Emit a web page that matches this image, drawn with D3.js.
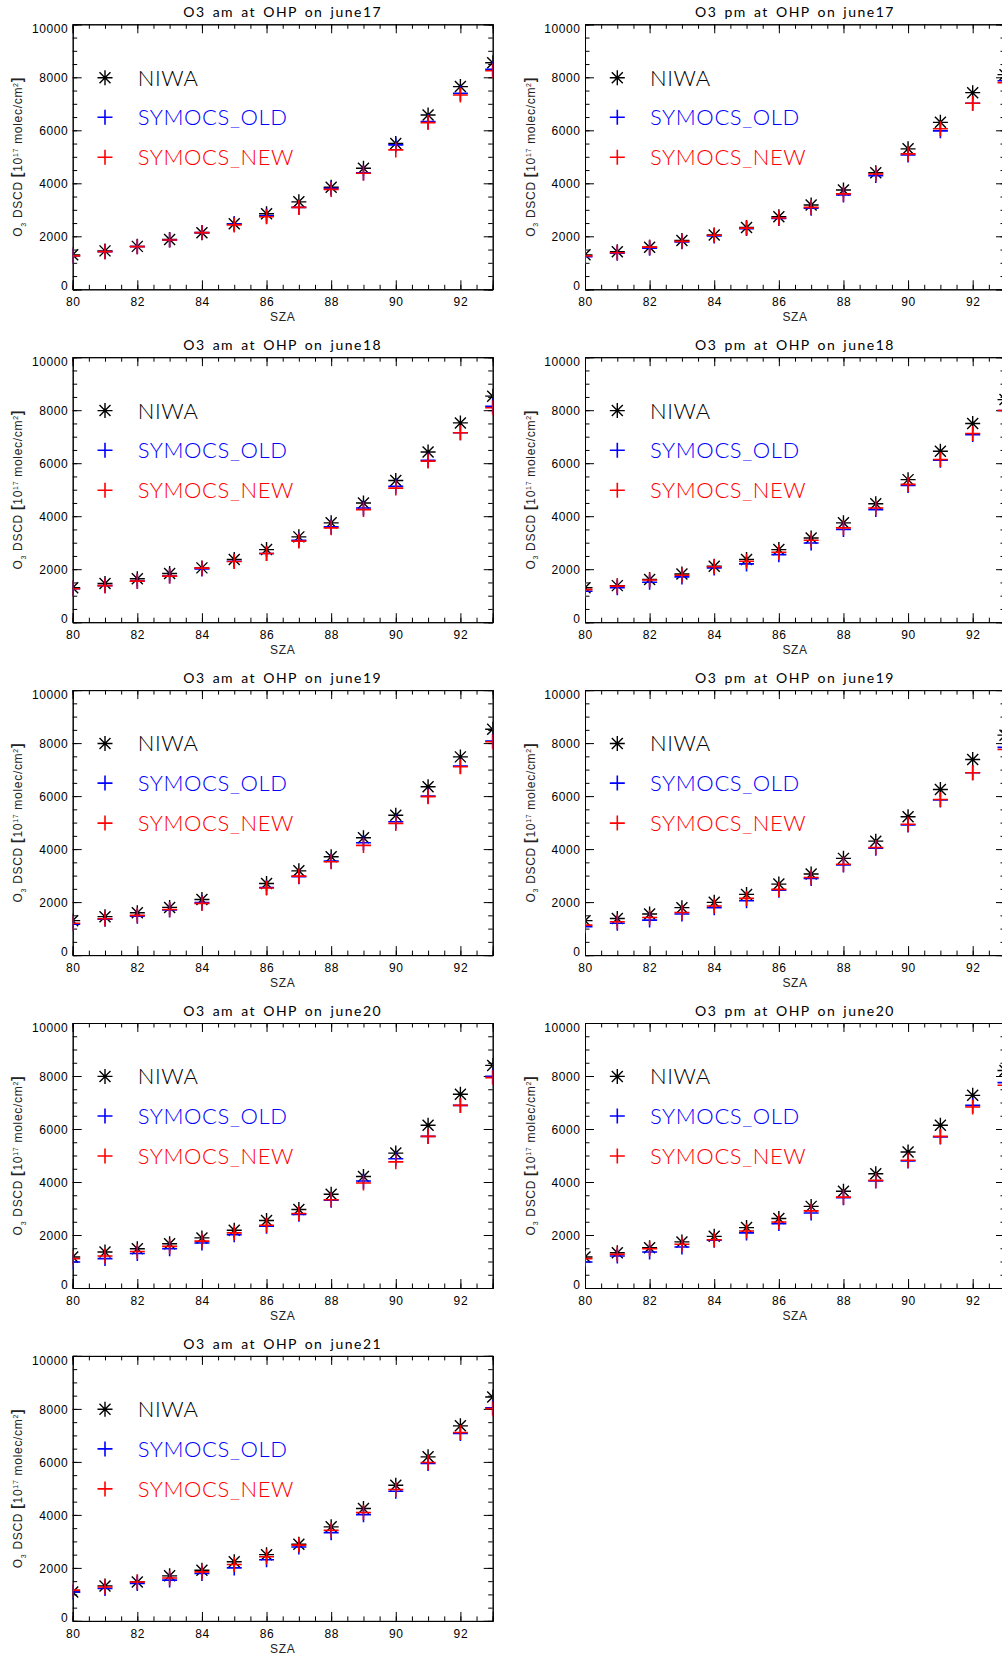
<!DOCTYPE html>
<html>
<head>
<meta charset="utf-8">
<script src="https://cdn.jsdelivr.net/npm/d3@7"></script>
<style>
  body { margin: 0; background: #fff; }
  text { font-family: "Liberation Sans", Arial, sans-serif; fill: #000; }
  .thin { font-family: "Lato", "Liberation Sans", sans-serif; font-weight: 300; }
  .title { font-family: "Lato", "Liberation Sans", sans-serif; font-weight: 400; }
</style>
</head>
<body>
<div id="chart"></div>
<script>
// SZA values on the x axis
var sza = [80, 81, 82, 83, 84, 85, 86, 87, 88, 89, 90, 91, 92, 93];

// O3 DSCD values (null = no point)
var niwaAm17 = [1300, 1450, 1620, 1880, 2130, 2470, 2850, 3300, 3850, 4570, 5500, 6580, 7650, 8550];
var oldAm17  = [1260, 1420, 1610, 1860, 2140, 2465, 2770, 3090, 3810, 4400, 5450, 6330, 7400, 8300];
var newAm17  = [1260, 1420, 1610, 1860, 2140, 2430, 2740, 3090, 3770, 4380, 5260, 6290, 7330, 8250];

var niwaPm17 = [1300, 1420, 1590, 1840, 2050, 2330, 2740, 3180, 3750, 4400, 5300, 6300, 7420, 8100];
var oldPm17  = [1230, 1360, 1550, 1790, 2010, 2290, 2670, 3060, 3560, 4290, 5070, 5980, 7020, 7870];
var newPm17  = [1260, 1380, 1590, 1810, 2040, 2310, 2690, 3090, 3600, 4350, 5110, 6060, 7020, 7800];

var niwaAm18 = [1300, 1460, 1640, 1840, 2050, 2370, 2740, 3220, 3750, 4500, 5350, 6420, 7520, 8530];
var oldAm18  = [1260, 1380, 1550, 1740, 2010, 2300, 2590, 3090, 3600, 4310, 5130, 6110, 7150, 8150];
var newAm18  = [1260, 1380, 1550, 1740, 2040, 2290, 2590, 3060, 3560, 4250, 5060, 6080, 7150, 8090];

var niwaPm18 = [1300, 1380, 1610, 1820, 2110, 2370, 2740, 3180, 3750, 4470, 5380, 6450, 7500, 8400];
var oldPm18  = [1170, 1300, 1510, 1710, 2050, 2200, 2550, 2990, 3500, 4250, 5160, 6110, 7080, 7990];
var newPm18  = [1230, 1360, 1590, 1770, 2090, 2300, 2640, 3090, 3560, 4310, 5200, 6140, 7120, 7990];

var niwaAm19 = [1300, 1450, 1600, 1800, 2100, null, 2700, 3180, 3710, 4430, 5280, 6350, 7480, 8520];
var oldAm19  = [1170, 1350, 1470, 1700, 1980, null, 2550, 2960, 3550, 4240, 5030, 6000, 7130, 8080];
var newAm19  = [1200, 1370, 1500, 1720, 1950, null, 2530, 2980, 3520, 4140, 4970, 5980, 7110, 8050];

var niwaPm19 = [1300, 1380, 1550, 1790, 1990, 2290, 2680, 3060, 3650, 4300, 5220, 6250, 7380, 8300];
var oldPm19  = [1070, 1200, 1320, 1550, 1790, 2050, 2450, 2890, 3400, 4030, 4910, 5850, 6880, 7840];
var newPm19  = [1130, 1260, 1420, 1610, 1850, 2140, 2480, 2930, 3430, 4060, 4940, 5870, 6880, 7760];

var niwaAm20 = [1170, 1360, 1480, 1670, 1890, 2180, 2550, 2960, 3540, 4210, 5090, 6140, 7310, 8400];
var oldAm20  = [980, 1110, 1300, 1480, 1700, 2010, 2330, 2780, 3310, 4040, 4880, 5720, 6890, 7990];
var newAm20  = [1110, 1210, 1380, 1570, 1770, 2080, 2370, 2810, 3330, 3960, 4760, 5720, 6890, 7940];

var niwaPm20 = [1170, 1330, 1520, 1740, 1950, 2280, 2620, 3080, 3650, 4310, 5130, 6140, 7270, 8210];
var oldPm20  = [980, 1210, 1360, 1550, 1800, 2080, 2430, 2830, 3410, 4040, 4790, 5700, 6890, 7750];
var newPm20  = [1110, 1270, 1480, 1650, 1820, 2150, 2490, 2910, 3430, 4060, 4820, 5720, 6830, 7650];

var niwaAm21 = [1090, 1320, 1470, 1700, 1910, 2230, 2500, 2890, 3550, 4240, 5120, 6190, 7360, 8450];
var oldAm21  = [1090, 1220, 1410, 1540, 1790, 2000, 2310, 2790, 3330, 4010, 4890, 5940, 7070, 8040];
var newAm21  = [1160, 1280, 1470, 1620, 1850, 2130, 2420, 2860, 3420, 4090, 4960, 5980, 7110, 8010];

var titles = [
  "O3 am at OHP on june17", "O3 pm at OHP on june17",
  "O3 am at OHP on june18", "O3 pm at OHP on june18",
  "O3 am at OHP on june19", "O3 pm at OHP on june19",
  "O3 am at OHP on june20", "O3 pm at OHP on june20",
  "O3 am at OHP on june21"
];
var niwaSeries = [niwaAm17, niwaPm17, niwaAm18, niwaPm18, niwaAm19, niwaPm19, niwaAm20, niwaPm20, niwaAm21];
var oldSeries  = [oldAm17, oldPm17, oldAm18, oldPm18, oldAm19, oldPm19, oldAm20, oldPm20, oldAm21];
var newSeries  = [newAm17, newPm17, newAm18, newPm18, newAm19, newPm19, newAm20, newPm20, newAm21];

var legendNames = ["NIWA", "SYMOCS_OLD", "SYMOCS_NEW"];
var colors = ["#000000", "#0000ff", "#ff0000"];

var svgWidth = 1002, svgHeight = 1655;
var colX = [72.7, 585];
var rowY0 = 24.3, rowStep = 332.9;
var width = 420, height = 265;

var svg = d3.select("#chart").append("svg")
  .attr("width", svgWidth)
  .attr("height", svgHeight)
  .style("display", "block");

svg.append("rect").attr("width", svgWidth).attr("height", svgHeight).attr("fill", "#fff");

var x = d3.scaleLinear().domain([80, 93]).range([0, width]);
var y = d3.scaleLinear().domain([0, 10000]).range([height, 0]);

var asterisk = "M-7.5,0H7.5M0,-7.5V7.5M-5.5,-5.5L5.5,5.5M-5.5,5.5L5.5,-5.5";
var plus = "M-7.5,0H7.5M0,-7.5V7.5";

titles.forEach(function (title, i) {
  var col = i % 2, row = Math.floor(i / 2);
  var g = svg.append("g")
    .attr("transform", `translate(${colX[col]}, ${rowY0 + row * rowStep})`);

  // clip marks to the plot window, like IDL does
  var clipId = "clip" + i;
  g.append("clipPath").attr("id", clipId)
    .append("rect").attr("width", width).attr("height", height);

  // title
  g.append("text")
    .attr("class", "title")
    .attr("x", width / 2).attr("y", -7)
    .attr("text-anchor", "middle")
    .style("font-size", "14px")
    .style("letter-spacing", "1.5px")
    .style("word-spacing", "2px")
    .text(title);

  // axes: ticks inward on all four sides
  var majorX = [80, 82, 84, 86, 88, 90, 92];
  var majorY = [0, 2000, 4000, 6000, 8000, 10000];
  var bottom = g.append("g").attr("transform", `translate(0, ${height})`)
    .call(d3.axisBottom(x).tickValues(majorX).tickSize(-9).tickFormat(d3.format("d")));
  g.append("g").attr("transform", `translate(0, ${height})`)
    .call(d3.axisBottom(x).ticks(26).tickSize(-4.5).tickFormat(""));
  g.append("g")
    .call(d3.axisTop(x).tickValues(majorX).tickSize(-9).tickFormat(""));
  g.append("g")
    .call(d3.axisTop(x).ticks(26).tickSize(-4.5).tickFormat(""));
  var left = g.append("g")
    .call(d3.axisLeft(y).tickValues(majorY).tickSize(-9).tickFormat(d3.format("d")));
  g.append("g")
    .call(d3.axisLeft(y).ticks(20).tickSize(-4.5).tickFormat(""));
  g.append("g").attr("transform", `translate(${width}, 0)`)
    .call(d3.axisRight(y).tickValues(majorY).tickSize(-9).tickFormat(""));
  g.append("g").attr("transform", `translate(${width}, 0)`)
    .call(d3.axisRight(y).ticks(20).tickSize(-4.5).tickFormat(""));

  g.selectAll(".domain").attr("stroke", "#000").attr("stroke-width", 1);
  g.selectAll(".tick line").attr("stroke", "#000").attr("stroke-width", 1);
  g.selectAll(".tick text").style("font-family", "Liberation Sans, Arial, sans-serif")
    .style("font-size", "12px").style("letter-spacing", "0.6px").attr("fill", "#222");

  // x labels below the axis
  bottom.selectAll(".tick text").attr("y", 8.5).attr("dy", "0.71em");
  // y labels left of the axis
  left.selectAll(".tick text").attr("x", -4.4).attr("dy", "0.35em");
  left.selectAll(".tick text").filter(function (d) { return d === 10000; }).attr("dy", "0.68em");
  left.selectAll(".tick text").filter(function (d) { return d === 0; }).attr("dy", "0.05em");

  // axis titles
  g.append("text")
    .attr("x", width / 2).attr("y", height + 32)
    .attr("text-anchor", "middle")
    .style("font-size", "12px")
    .style("letter-spacing", "0.6px")
    .style("fill", "#222")
    .text("SZA");

  var yl = g.append("text")
    .attr("transform", `translate(-54.7, ${height / 2}) rotate(-90)`)
    .attr("text-anchor", "middle")
    .attr("dy", "0.35em")
    .style("font-size", "12px")
    .style("letter-spacing", "0.7px")
    .style("fill", "#222");
  yl.append("tspan").text("O");
  yl.append("tspan").attr("dy", "4").style("font-size", "7px").text("3");
  yl.append("tspan").attr("dy", "-4").text(" DSCD ");
  yl.append("tspan").style("font-size", "14px").style("font-weight", "bold").text("[");
  yl.append("tspan").text("10");
  yl.append("tspan").attr("dy", "-4").style("font-size", "7px").text("17");
  yl.append("tspan").attr("dy", "4").text(" molec/cm");
  yl.append("tspan").attr("dy", "-4").style("font-size", "7px").text("2");
  yl.append("tspan").attr("dy", "4").style("font-size", "14px").style("font-weight", "bold").text("]");

  // data marks
  var marks = g.append("g").attr("clip-path", `url(#${clipId})`);
  var seriesList = [niwaSeries[i], oldSeries[i], newSeries[i]];
  seriesList.forEach(function (vals, s) {
    var pts = sza.map(function (d, k) { return { sza: d, v: vals[k] }; })
      .filter(function (d) { return d.v !== null; });
    marks.selectAll(null)
      .data(pts)
      .enter()
      .append("path")
      .attr("transform", d => `translate(${x(d.sza)}, ${y(d.v)})`)
      .attr("d", s === 0 ? asterisk : plus)
      .attr("fill", "none")
      .attr("stroke", colors[s])
      .attr("stroke-width", s === 0 ? 1.4 : 1.6);
  });

  // legend
  var legendY = [53.4, 93, 133];
  legendNames.forEach(function (name, s) {
    g.append("path")
      .attr("transform", `translate(32.3, ${legendY[s]})`)
      .attr("d", s === 0 ? asterisk : plus)
      .attr("fill", "none")
      .attr("stroke", colors[s])
      .attr("stroke-width", s === 0 ? 1.4 : 1.6);
    g.append("text")
      .attr("class", "thin")
      .attr("x", 65).attr("y", legendY[s])
      .attr("dy", "0.36em")
      .style("font-size", "22px")
      .style("letter-spacing", "0.6px")
      .style("fill", colors[s])
      .text(name);
  });
});
</script>
</body>
</html>
